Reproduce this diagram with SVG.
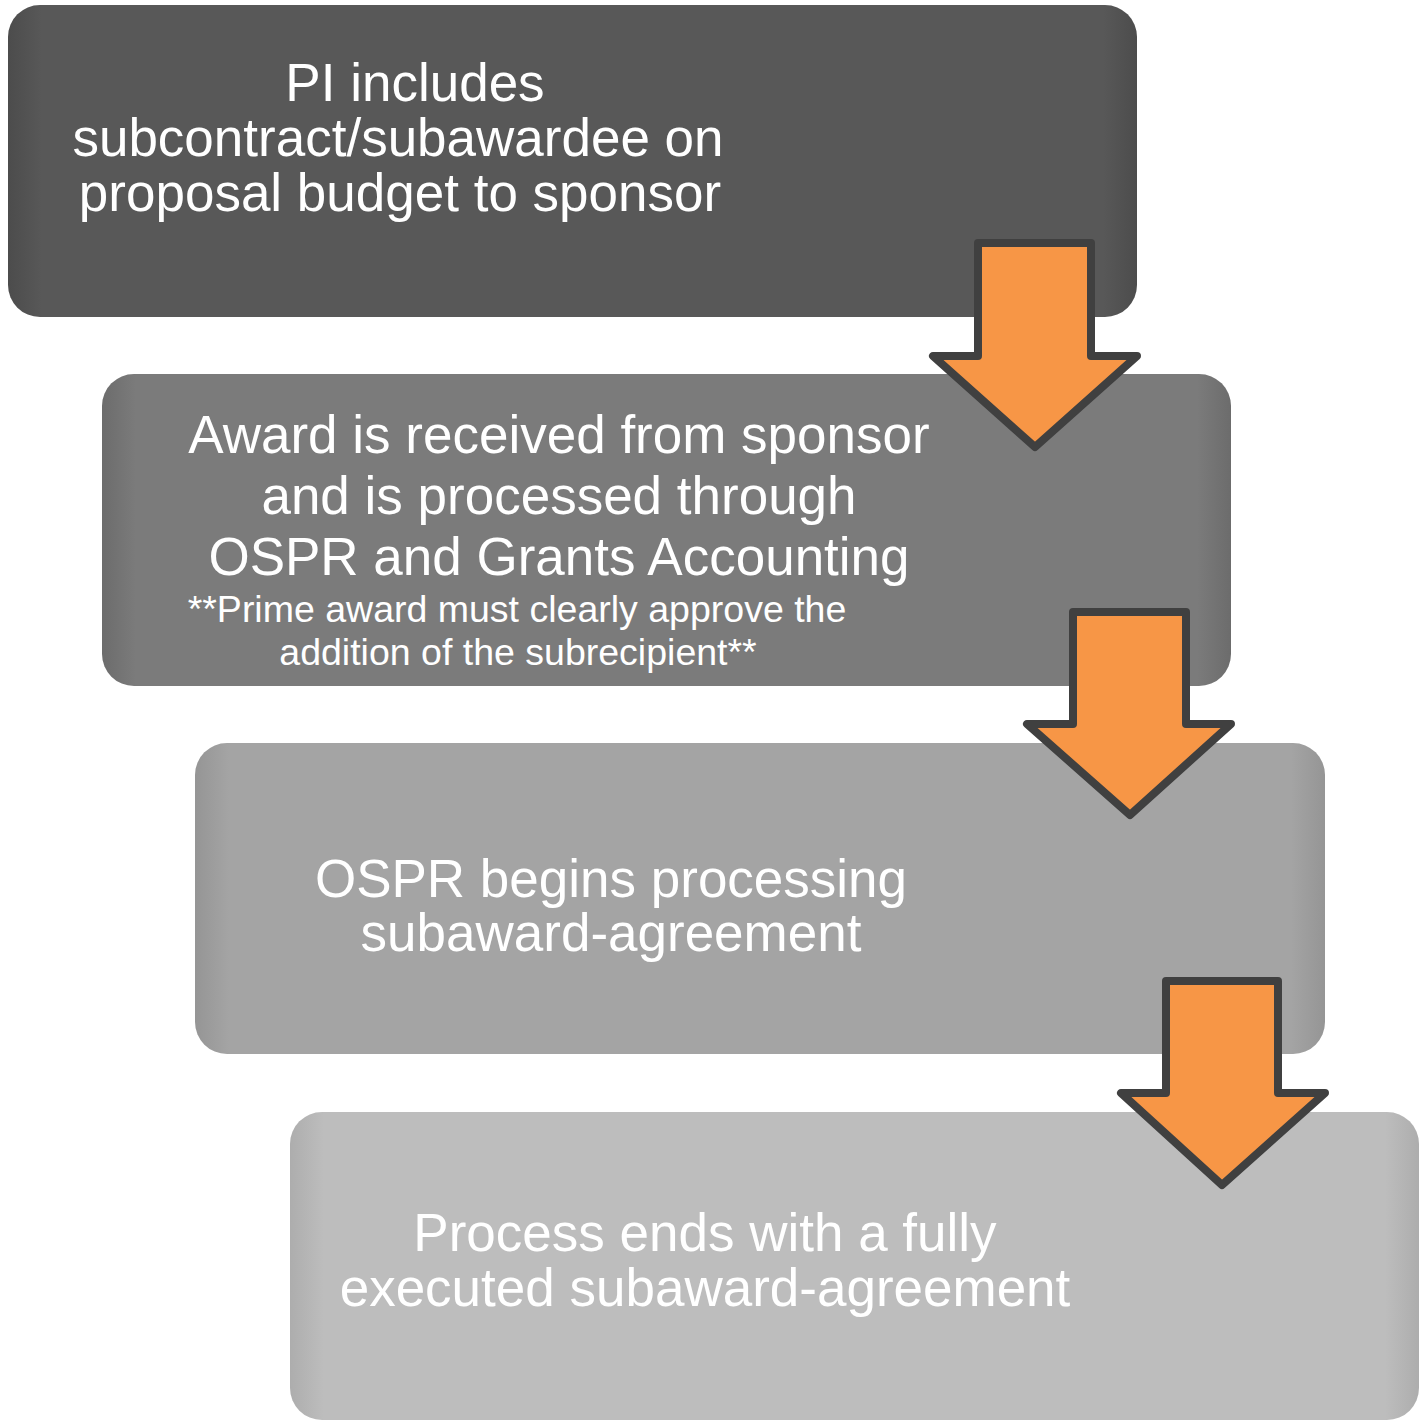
<svg xmlns="http://www.w3.org/2000/svg" width="1424" height="1420" viewBox="0 0 1424 1420">
<style>
.t{font-family:"Liberation Sans",Arial,sans-serif;fill:#ffffff;text-anchor:middle}
.big{font-size:53px}
.small{font-size:37.5px}
.arrow{fill:#F79646;stroke:#404040;stroke-width:8;stroke-linejoin:round}
</style>
<defs>
<linearGradient id="g1" x1="0" y1="0" x2="1" y2="0">
<stop offset="0" stop-color="#4c4c4c"/><stop offset="0.03" stop-color="#585858"/><stop offset="0.97" stop-color="#585858"/><stop offset="1" stop-color="#4c4c4c"/>
</linearGradient>
<linearGradient id="g2" x1="0" y1="0" x2="1" y2="0">
<stop offset="0" stop-color="#6c6c6c"/><stop offset="0.03" stop-color="#7b7b7b"/><stop offset="0.97" stop-color="#7b7b7b"/><stop offset="1" stop-color="#6c6c6c"/>
</linearGradient>
<linearGradient id="g3" x1="0" y1="0" x2="1" y2="0">
<stop offset="0" stop-color="#959595"/><stop offset="0.03" stop-color="#a4a4a4"/><stop offset="0.97" stop-color="#a4a4a4"/><stop offset="1" stop-color="#959595"/>
</linearGradient>
<linearGradient id="g4" x1="0" y1="0" x2="1" y2="0">
<stop offset="0" stop-color="#adadad"/><stop offset="0.03" stop-color="#bdbdbd"/><stop offset="0.97" stop-color="#bdbdbd"/><stop offset="1" stop-color="#adadad"/>
</linearGradient>
</defs>
<rect width="1424" height="1420" fill="#ffffff"/>
<g id="node1">
<rect x="8" y="5" width="1129" height="312" rx="32" fill="url(#g1)"/>
<text class="t big" x="415" y="101">PI includes</text>
<text class="t big" x="398" y="156">subcontract/subawardee on</text>
<text class="t big" x="400" y="211">proposal budget to sponsor</text>
</g>
<g id="node2">
<rect x="102" y="374" width="1129" height="312" rx="32" fill="url(#g2)"/>
<text class="t big" x="559" y="453">Award is received from sponsor</text>
<text class="t big" x="559" y="514">and is processed through</text>
<text class="t big" x="559" y="575">OSPR and Grants Accounting</text>
<text class="t small" x="517" y="622">**Prime award must clearly approve the</text>
<text class="t small" x="518" y="665">addition of the subrecipient**</text>
</g>
<g id="node3">
<rect x="195" y="743" width="1130" height="311" rx="32" fill="url(#g3)"/>
<text class="t big" x="611" y="897">OSPR begins processing</text>
<text class="t big" x="611" y="951">subaward-agreement</text>
</g>
<g id="node4">
<rect x="290" y="1112" width="1129" height="308" rx="32" fill="url(#g4)"/>
<text class="t big" x="705" y="1251">Process ends with a fully</text>
<text class="t big" x="705" y="1306">executed subaward-agreement</text>
</g>
<g id="connectors">
<polygon class="arrow" points="978,243 1091,243 1091,356 1137,356 1035,447 933,356 978,356"/>
<polygon class="arrow" points="1073,612 1186,612 1186,724 1231,724 1130,815 1027,724 1073,724"/>
<polygon class="arrow" points="1166,981 1278,981 1278,1093 1325,1093 1222,1185 1121,1093 1166,1093"/>
</g>
</svg>
